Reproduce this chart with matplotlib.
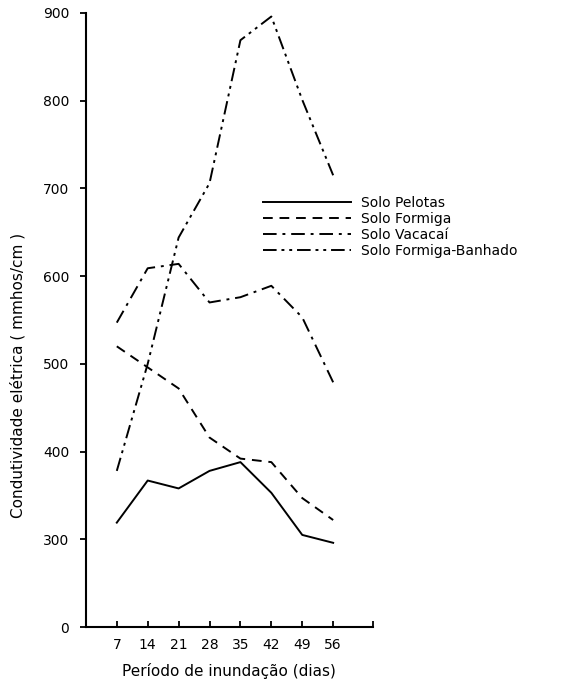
import numpy as np
import matplotlib.pyplot as plt

dias = [7, 14, 21, 28, 35, 42, 49, 56]
pelotas = [319, 367, 358, 378, 388, 353, 305, 288]
formiga = [520, 496, 472, 416, 392, 388, 347, 322]
vacacai = [547, 609, 614, 570, 576, 589, 553, 479]
banhado = [378, 500, 644, 706, 869, 896, 801, 715]

yticks = [0, 300, 400, 500, 600, 700, 800, 900]

# eixo y interrompido: 0-300 ocupa o espaco de 100 unidades
def fwd(v):
    v = np.asarray(v, dtype=float)
    return np.where(v >= 300, v, 200 + v / 3.0)

def inv(u):
    u = np.asarray(u, dtype=float)
    return np.where(u >= 300, u, (u - 200) * 3.0)

plt.rcParams['font.family'] = 'DejaVu Sans'
fig = plt.figure(figsize=(5.65, 6.84), dpi=100)
ax = fig.add_axes([0.152, 0.0833, 0.508, 0.8977])
ax.set_yscale('function', functions=(fwd, inv))

ax.plot(dias, pelotas, color='black', lw=1.4, label='Solo Pelotas')
ax.plot(dias, formiga, color='black', lw=1.4, linestyle=(0, (5, 3.5)), label='Solo Formiga')
ax.plot(dias, vacacai, color='black', lw=1.4, linestyle=(0, (7, 3, 1.5, 3)), label='Solo Vacacaí')
ax.plot(dias, banhado, color='black', lw=1.4, linestyle=(0, (7, 2.5, 1.5, 2.5, 1.5, 2.5)),
        label='Solo Formiga-Banhado')

ax.set_xlim(0, 65)
ax.set_ylim(0, 900)
ax.set_xticks(dias + [65])
ax.set_xticklabels([str(d) for d in dias] + [''])
ax.set_yticks(yticks)
ax.set_yticklabels([str(t) for t in yticks])
ax.yaxis.set_minor_locator(plt.NullLocator())

for s in ['top', 'right']:
    ax.spines[s].set_visible(False)
ax.spines['left'].set_linewidth(1.5)
ax.spines['bottom'].set_linewidth(1.5)
ax.tick_params(axis='x', direction='in', length=4, width=1.3, pad=8, labelsize=10)
ax.tick_params(axis='y', direction='out', length=4, width=1.3, pad=8, labelsize=10)

ax.set_xlabel('Período de inundação (dias)', fontsize=11, labelpad=8)
ax.set_ylabel('Condutividade elétrica ( mmhos/cm )', fontsize=11)
ax.yaxis.set_label_coords(-0.21, 0.41)

ax.legend(loc='upper left', bbox_to_anchor=(0.594, 0.714), frameon=False, fontsize=10,
          handlelength=6.3, handletextpad=0.7, labelspacing=0.15, borderpad=0)

fig.savefig('out.png', dpi=100)
